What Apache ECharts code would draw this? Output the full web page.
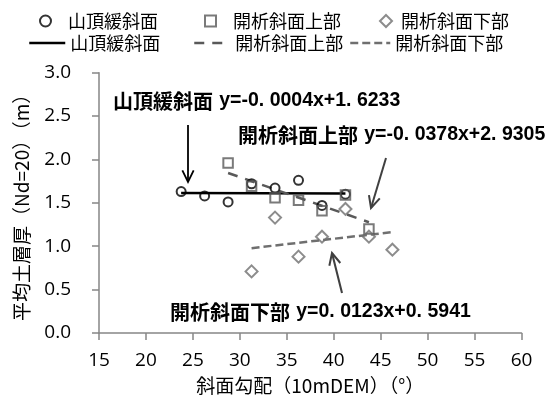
<!DOCTYPE html>
<html><head><meta charset="utf-8">
<script src="https://cdn.jsdelivr.net/npm/echarts@6/dist/echarts.min.js"></script>
<style>html,body{margin:0;padding:0;background:#fff}#c{width:559px;height:403px}</style>
</head><body><div id="c"></div>
<script>
// ---- data ----
const seriesNames = ['山頂緩斜面', '開析斜面上部', '開析斜面下部'];
const summitX = [23.75, 26.25, 28.75, 31.25, 33.75, 36.25, 38.75, 41.25];
const summitY = [1.63, 1.58, 1.51, 1.72, 1.67, 1.76, 1.47, 1.60];
const upperX = [28.75, 31.25, 33.75, 36.25, 38.75, 41.25, 43.75];
const upperY = [1.96, 1.69, 1.56, 1.53, 1.41, 1.59, 1.20];
const lowerX = [31.25, 33.75, 36.25, 38.75, 41.25, 43.75, 46.25];
const lowerY = [0.71, 1.33, 0.88, 1.11, 1.43, 1.11, 0.96];
// trend line endpoints (as drawn)
const summitTrendX = [23.75, 41.25];
const summitTrendY = [1.614, 1.607];
const upperTrendX = [28.75, 43.75];
const upperTrendY = [1.844, 1.277];
const lowerTrendX = [31.25, 46.25];
const lowerTrendY = [0.978, 1.163];
const equations = ['y=-0. 0004x+1. 6233', 'y=-0. 0378x+2. 9305', 'y=0. 0123x+0. 5941'];
const xTicks = {min: 15, max: 60, interval: 5};
const yTicks = {min: 0, max: 3, interval: 0.5};
const xTitle = '斜面勾配（10mDEM）（°）';
const yTitle = '平均土層厚（Nd=20）（m）';

const zip = (xs, ys) => xs.map((x, i) => [x, ys[i]]);
const LINE_SUFFIX = ' ';
const cjk = "'Noto Sans CJK JP', sans-serif";
const num = "'Open Sans', sans-serif";

const chart = echarts.init(document.getElementById('c'), null, {renderer: 'canvas'});

const axisCommon = {
  axisLine: {show: true, lineStyle: {color: '#868686', width: 1.5}},
  axisTick: {show: true, length: 7, lineStyle: {color: '#868686', width: 1.5}},
  splitLine: {show: false},
  nameTextStyle: {fontFamily: cjk, fontSize: 19, color: '#000'}
};

function legendAt(name, left, top, iw, ih, prefix, isLine) {
  const l = {
    data: [name], left: left, top: top, padding: 0, itemWidth: iw, itemHeight: ih,
    textStyle: {fontFamily: cjk, fontSize: 18, color: '#000'},
    formatter: n => prefix + n.trim(),
    selectedMode: false
  };
  if (isLine) {
    l.itemStyle = {color: 'rgba(0,0,0,0)', borderColor: 'rgba(0,0,0,0)', borderWidth: 0};
    l.lineStyle = {width: 2.5};
  }
  return l;
}

function arrow(x1, y1, x2, y2, color, w) {
  const ang = Math.atan2(y2 - y1, x2 - x1);
  const L = 13, a = 0.45;
  const p1 = [x2 - L * Math.cos(ang - a), y2 - L * Math.sin(ang - a)];
  const p2 = [x2 - L * Math.cos(ang + a), y2 - L * Math.sin(ang + a)];
  return [
    {type: 'line', shape: {x1, y1, x2, y2}, style: {stroke: color, lineWidth: w}},
    {type: 'polyline', shape: {points: [p1, [x2, y2], p2]}, style: {stroke: color, lineWidth: w, fill: null}}
  ];
}

function label(cj, eq, x, y) {
  return {
    type: 'text', x: x, y: y,
    style: {
      text: '{c|' + cj + '}{s|  }{l|' + eq + '}',
      verticalAlign: 'middle',
      rich: {
        c: {fontFamily: cjk, fontWeight: 'bold', fontSize: 20, fill: '#000'},
        s: {fontFamily: num, fontSize: 12},
        l: {fontFamily: "'Liberation Sans', sans-serif", fontWeight: 'bold', fontSize: 19.5, fill: '#000'}
      }
    }
  };
}

const option = {
  animation: false,
  backgroundColor: '#fff',
  grid: {left: 99, right: 37.5, top: 72.7, bottom: 70},
  xAxis: Object.assign({}, axisCommon, {
    type: 'value', min: xTicks.min, max: xTicks.max, interval: xTicks.interval,
    name: xTitle, nameLocation: 'middle', nameGap: 43,
    axisLabel: {fontFamily: num, fontSize: 19, color: '#000', margin: 18}
  }),
  yAxis: Object.assign({}, axisCommon, {
    type: 'value', min: yTicks.min, max: yTicks.max, interval: yTicks.interval,
    name: yTitle, nameLocation: 'middle', nameGap: 68,
    axisLabel: {fontFamily: num, fontSize: 19, color: '#000', margin: 28, formatter: v => v.toFixed(1)}
  }),
  legend: [
    legendAt(seriesNames[0], 39, 12, 11, 11, '   ', false),
    legendAt(seriesNames[1], 204, 12, 11, 11, '   ', false),
    legendAt(seriesNames[2], 379, 12, 12, 12, ' ', false),
    legendAt(seriesNames[0] + LINE_SUFFIX, 28, 34, 36, 14, '', true),
    legendAt(seriesNames[1] + LINE_SUFFIX, 193, 34, 28, 14, '  ', true),
    legendAt(seriesNames[2] + LINE_SUFFIX, 349, 34, 40, 14, '', true)
  ],
  series: [
    {name: seriesNames[0] + LINE_SUFFIX, type: 'line', data: zip(summitTrendX, summitTrendY), symbol: 'none',
     lineStyle: {color: '#000', width: 2.5, type: 'solid'}, itemStyle: {color: '#000'}, z: 2},
    {name: seriesNames[1] + LINE_SUFFIX, type: 'line', data: zip(upperTrendX, upperTrendY), symbol: 'none',
     lineStyle: {color: '#595959', width: 2.5, type: [10, 8]}, itemStyle: {color: '#595959'}, z: 2},
    {name: seriesNames[2] + LINE_SUFFIX, type: 'line', data: zip(lowerTrendX, lowerTrendY), symbol: 'none',
     lineStyle: {color: '#6f6f6f', width: 2.5, type: [8, 4]}, itemStyle: {color: '#6f6f6f'}, z: 2},
    {name: seriesNames[0], type: 'scatter', data: zip(summitX, summitY), symbol: 'circle', symbolSize: 9,
     itemStyle: {color: 'rgba(255,255,255,0)', borderColor: '#000', borderWidth: 2}, z: 3},
    {name: seriesNames[1], type: 'scatter', data: zip(upperX, upperY), symbol: 'rect', symbolSize: 9.5,
     itemStyle: {color: 'rgba(255,255,255,0)', borderColor: '#595959', borderWidth: 2}, z: 3},
    {name: seriesNames[2], type: 'scatter', data: zip(lowerX, lowerY), symbol: 'diamond', symbolSize: 12,
     itemStyle: {color: 'rgba(255,255,255,0)', borderColor: '#6f6f6f', borderWidth: 2}, z: 3}
  ],
  graphic: [
    label(seriesNames[0], equations[0], 113, 101),
    label(seriesNames[1], equations[1], 238, 135),
    label(seriesNames[2], equations[2], 170, 312)
  ].concat(
    arrow(188, 125, 188, 182, '#000', 1.8),
    arrow(386, 158, 371, 208, '#404040', 2),
    arrow(342, 293, 332, 253, '#404040', 2)
  )
};
chart.setOption(option);
</script></body></html>
